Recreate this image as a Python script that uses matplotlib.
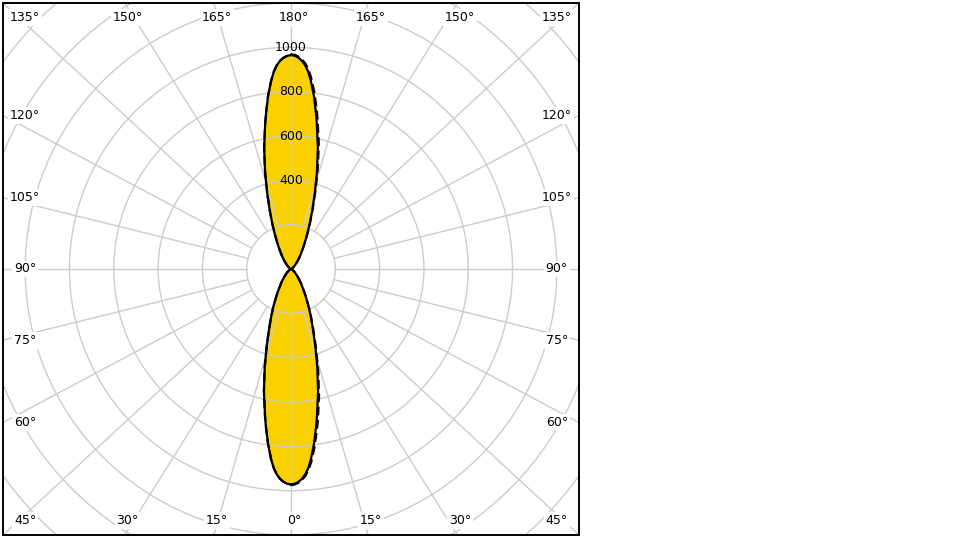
import numpy as np
import matplotlib
matplotlib.use('Agg')
import matplotlib.pyplot as plt
from matplotlib.patches import Circle

# gamma angles (deg) measured from the lobe axis, intensities in cd
gamma = [0, 1, 2, 3, 4, 5, 6, 7.5, 9, 10, 12.5, 15, 17.5, 20, 22.5, 25, 27.5, 30,
         35, 40, 45, 50, 55, 60, 65, 70, 80, 90]
lower_solid = [972, 969, 961, 948, 928, 900, 862, 795, 722, 675, 565, 458, 365, 290,
               235, 190, 150, 120, 78, 50, 32, 20, 12, 7, 4, 2, 1, 0]
lower_dash = [975, 972, 965, 953, 935, 910, 875, 812, 742, 697, 585, 474, 376, 297,
              239, 192, 152, 121, 78, 50, 32, 20, 12, 7, 4, 2, 1, 0]
upper_solid = [965, 962, 954, 941, 921, 893, 855, 790, 717, 670, 560, 452, 356, 280,
               220, 172, 135, 108, 70, 45, 28, 18, 11, 6, 3, 2, 1, 0]
upper_dash = [968, 966, 959, 947, 929, 904, 868, 806, 736, 690, 580, 467, 366, 286,
              224, 174, 136, 108, 70, 45, 28, 18, 11, 6, 3, 2, 1, 0]

ring_values = [200, 400, 600, 800, 1000, 1200, 1400, 1600, 1800]
ring_labels = [400, 600, 800, 1000]
spoke_step = 15

XMAX, YMAX = 1300, 1200
grid_c = '#cccccc'
fill_c = '#f9d000'
fs = 9

g = np.radians(gamma)


def half(vals, side, up):
    v = np.asarray(vals, float)
    x = side * v * np.sin(g)
    y = v * np.cos(g) * (1 if up else -1)
    return x, y


fig = plt.figure(figsize=(9.6, 5.4), dpi=100)
ax = fig.add_axes([3 / 960, 5 / 540, 576 / 960, 532 / 540])
ax.set_xlim(-XMAX, XMAX)
ax.set_ylim(-YMAX, YMAX)
ax.set_xticks([])
ax.set_yticks([])
for sp in ax.spines.values():
    sp.set_color('black')
    sp.set_linewidth(1.4)

# outline of solid curve (right lower -> right upper -> left upper -> left lower)
rlx, rly = half(lower_solid, 1, False)
rux, ruy = half(upper_solid, 1, True)
lux, luy = half(upper_solid, -1, True)
llx, lly = half(lower_solid, -1, False)
sx = np.concatenate([rlx, rux[::-1], lux, llx[::-1]])
sy = np.concatenate([rly, ruy[::-1], luy, lly[::-1]])
ax.fill(sx, sy, color=fill_c, lw=0, zorder=1)

# rings
for r in ring_values:
    ax.add_patch(Circle((0, 0), r, fill=False, ec=grid_c, lw=1.0, zorder=2))

# spokes and angle labels
for k in range(0, 360, spoke_step):
    t = np.radians(k)
    dx, dy = np.sin(t), -np.cos(t)
    m = max(abs(dx), abs(dy))
    px, py = XMAX * dx / m, XMAX * dy / m * YMAX / XMAX
    n = np.hypot(px, py)
    ax.plot([200 * px / n, px], [200 * py / n, py], color=grid_c, lw=1.0, zorder=2)

    val = k if k <= 180 else 360 - k
    if abs(abs(dx) - abs(dy)) < 1e-9:
        lx, ly = np.sign(dx) * 1200, np.sign(dy) * 1135
    elif abs(dx) > abs(dy):
        lx, ly = np.sign(dx) * 1200, py
    else:
        lx, ly = px + 13, np.sign(dy) * 1135
    ax.text(lx, ly, f'{val}°', ha='center', va='center', fontsize=fs,
            zorder=7, bbox=dict(boxstyle='square,pad=0.15', fc='white', ec='none'))

# dashed plane (C90 on the right, C270 on the left)
dlx, dly = half(lower_dash, 1, False)
dux, duy = half(upper_dash, 1, True)
ax.plot(np.concatenate([dlx, dux[::-1], lux, llx[::-1], dlx[:1]]),
        np.concatenate([dly, duy[::-1], luy, lly[::-1], dly[:1]]),
        color='black', lw=1.6, ls=(0, (4, 2)), zorder=4)

# solid plane
ax.plot(np.append(sx, sx[0]), np.append(sy, sy[0]), color='black', lw=1.6, zorder=5)

for r in ring_labels:
    ax.text(0, r, str(r), ha='center', va='center', fontsize=fs, zorder=6)

fig.savefig('out.png', dpi=100)
